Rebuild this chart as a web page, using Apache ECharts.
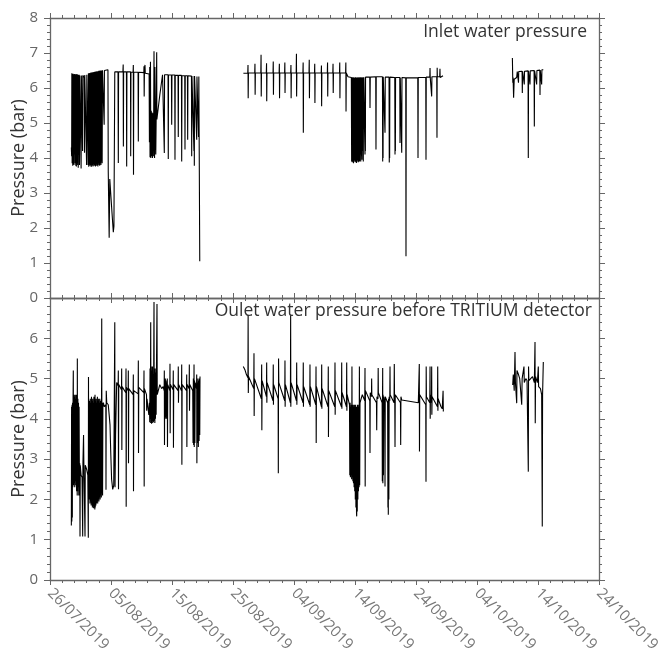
<!DOCTYPE html>
<html>
<head>
<meta charset="utf-8">
<script src="https://cdn.jsdelivr.net/npm/echarts@6/dist/echarts.min.js"></script>
<style>html,body{margin:0;padding:0;background:#fff}#c{width:660px;height:657px}</style>
</head>
<body>
<div id="c"></div>
<script>
// Day offsets since 26/07/2019, pressure in bar
const xTickDays = [0,10,20,30,40,50,60,70,80,90];
const panelTitles = ['Inlet water pressure','Oulet water pressure before TRITIUM detector'];
const yTitle = 'Pressure (bar)';

const inletSeg1 = [
[3.50,4.30],[3.55,4.05],[3.58,6.42],[3.63,3.85],[3.68,6.40],[3.73,3.78],[3.78,6.41],[3.83,3.82],[3.88,6.38],[3.93,3.80],[3.98,6.40],[4.03,4.10],[4.08,6.39],[4.13,3.85],[4.18,6.38],[4.23,3.78],[4.28,6.40],[4.33,3.76],[4.38,6.38],[4.43,3.85],[4.48,6.39],[4.53,3.80],[4.58,6.37],[4.63,3.72],[4.68,6.38],[4.73,4.10],[4.78,6.38],[4.83,3.80],[4.88,6.36],
[5.05,6.37],[5.10,3.70],[5.14,6.36],[5.30,6.37],[5.34,4.20],[5.38,6.36],[5.55,6.36],[5.60,6.30],[5.66,4.15],[5.70,6.37],[5.95,6.38],[6.00,3.80],[6.04,6.38],
[6.20,6.40],[6.25,3.80],[6.30,6.42],[6.35,3.75],[6.40,6.41],[6.45,3.82],[6.50,6.43],[6.55,3.78],[6.60,6.42],[6.65,3.80],[6.70,6.44],[6.75,3.74],[6.80,6.43],[6.85,3.78],[6.90,6.45],[6.95,3.80],[7.00,6.44],[7.05,3.76],[7.10,6.45],[7.15,3.82],[7.20,6.46],[7.25,3.78],[7.30,6.45],[7.35,3.80],[7.40,6.47],[7.45,3.76],[7.50,6.46],[7.55,3.82],[7.60,6.47],[7.65,3.78],[7.70,6.48],[7.75,3.80],[7.80,6.47],[7.85,3.76],[7.90,6.48],[7.95,3.84],[8.00,6.49],[8.05,3.80],[8.10,6.48],[8.15,3.78],[8.20,6.50],[8.25,3.85],[8.30,6.49],[8.35,3.80],[8.40,6.50],[8.45,3.90],[8.50,6.50],[8.55,3.85],[8.60,6.51],
[8.75,6.50],[8.85,6.50],[8.88,4.95],[8.92,6.50],[9.50,6.52],
[9.55,3.60],[9.70,1.72],[9.80,3.40],[10.10,2.60],[10.38,1.88],[10.48,2.05],[10.62,6.46],
[11.15,6.46],[11.20,3.86],[11.24,6.46],[11.95,6.46],[12.00,6.67],[12.03,4.33],[12.07,6.46],[12.53,6.46],[12.57,3.76],[12.61,6.46],[13.20,6.46],[13.23,4.05],[13.27,6.45],[13.62,6.45],[13.66,6.66],[13.69,3.52],[13.73,6.45],[14.44,6.45],[14.48,4.47],[14.52,6.45],[15.38,6.44],[15.41,6.62],[15.44,5.76],[15.48,6.44],[15.57,6.66],[15.62,6.42],[16.25,6.40],
[16.30,4.45],[16.35,6.60],[16.40,4.02],[16.47,6.75],[16.53,4.00],[16.60,5.35],[16.66,4.05],[16.73,5.30],[16.80,4.00],[16.87,5.28],[16.94,4.05],[17.00,5.20],[17.05,7.05],[17.08,5.20],[17.14,4.00],[17.20,6.60],[17.27,5.00],[17.34,4.10],[17.41,5.20],[17.49,7.02],[17.52,5.10],[18.00,5.80],[18.45,6.38],
[18.70,6.38],[18.74,4.14],[18.78,6.38],[19.35,6.38],[19.39,3.97],[19.43,6.37],[19.91,6.37],[19.95,4.95],[19.99,6.37],[20.45,6.37],[20.49,3.95],[20.53,6.36],[20.99,6.36],[21.03,4.60],[21.07,6.36],[21.55,6.36],[21.59,3.90],[21.63,6.35],[22.09,6.35],[22.13,4.24],[22.17,6.35],[22.53,6.35],[22.57,4.52],[22.61,6.35],[23.19,6.34],[23.23,4.05],[23.27,6.34],[23.55,6.34],[23.60,4.20],[23.63,6.34],[23.66,3.78],[23.70,6.34],[24.01,6.33],[24.05,4.52],[24.09,6.33],[24.30,6.33],[24.35,4.60],[24.40,6.33],[24.46,6.33],[24.48,3.62],[24.55,1.05]
];
const inletSeg2 = [
[31.70,6.42],[32.42,6.43],[32.46,6.66],[32.49,5.71],[32.53,6.43],[33.56,6.43],[33.60,6.69],[33.63,5.81],[33.67,6.43],[34.56,6.43],[34.60,6.95],[34.63,5.76],[34.67,6.43],[35.46,6.43],[35.50,6.71],[35.53,5.62],[35.57,6.43],[36.56,6.43],[36.60,6.76],[36.63,5.81],[36.67,6.43],[37.56,6.43],[37.60,6.69],[37.63,5.71],[37.67,6.43],[38.46,6.43],[38.50,6.73],[38.53,5.86],[38.57,6.43],[39.46,6.43],[39.50,6.66],[39.53,5.71],[39.57,6.43],[40.36,6.43],[40.40,6.98],[40.43,5.76],[40.47,6.43],[41.46,6.43],[41.50,6.73],[41.53,4.72],[41.57,6.43],[42.46,6.43],[42.50,6.81],[42.53,5.71],[42.57,6.43],[43.36,6.43],[43.40,6.69],[43.43,5.57],[43.47,6.43],[44.46,6.43],[44.50,6.64],[44.53,5.48],[44.57,6.43],[45.46,6.43],[45.50,6.73],[45.53,5.76],[45.57,6.43],[46.36,6.43],[46.40,6.69],[46.43,5.86],[46.47,6.43],[47.46,6.43],[47.50,6.73],[47.53,5.71],[47.57,6.43],[48.46,6.43],[48.50,6.73],[48.53,5.33],[48.57,6.43],[48.85,6.32],
[49.40,6.30],[49.45,3.90],[49.50,6.31],[49.55,3.88],[49.60,6.30],[49.65,3.92],[49.70,6.31],[49.75,3.85],[49.80,6.30],[49.85,3.90],[49.90,6.30],[49.95,3.95],[50.00,6.30],[50.05,3.88],[50.10,6.31],[50.15,3.92],[50.20,6.30],[50.25,3.86],[50.30,6.30],[50.35,3.90],[50.40,6.30],[50.45,3.95],[50.50,6.31],[50.55,3.88],[50.60,6.30],[50.65,3.92],[50.70,6.30],[50.75,3.90],[50.80,6.31],[50.85,4.10],[50.90,6.30],[50.95,3.90],[51.00,6.31],[51.05,4.05],[51.10,6.30],[51.15,3.95],[51.20,6.30],[51.25,4.20],[51.30,6.31],[51.36,3.90],[51.40,6.31],
[51.60,6.31],[51.64,4.10],[51.67,6.31],[51.70,4.20],[51.73,6.31],[52.42,6.31],[52.46,5.43],[52.50,6.31],[53.40,6.32],[53.44,4.24],[53.48,6.32],[54.50,6.32],[54.54,3.90],[54.57,6.32],[54.60,4.00],[54.63,6.32],[54.88,6.31],[54.92,4.72],[54.96,6.31],[55.58,6.31],[55.62,3.87],[55.65,6.31],[55.68,4.00],[55.71,6.31],[56.52,6.30],[56.56,4.10],[56.59,6.30],[56.62,4.20],[56.65,6.30],[57.34,6.30],[57.38,4.43],[57.42,6.30],[57.62,6.30],[57.66,4.15],[57.70,6.30],[58.32,6.29],[58.36,1.19],[58.40,6.29],[60.29,6.29],[60.33,4.00],[60.37,6.30],[61.60,6.30],[61.64,3.95],[61.68,6.31],[62.26,6.31],[62.30,6.57],[62.33,6.31],[62.53,6.31],[62.57,5.76],[62.61,6.32],[63.40,6.32],[63.44,4.58],[63.47,6.58],[63.50,6.32],[63.89,6.33],[63.93,6.55],[63.96,6.30],[64.43,6.35]
];
const inletSeg3 = [
[75.80,6.86],[75.87,6.15],[75.92,6.30],[76.00,5.72],[76.10,6.25],[76.30,6.20],[76.50,6.30],[76.60,6.47],[76.78,6.47],[76.80,6.15],[76.84,6.47],[77.39,6.48],[77.43,5.86],[77.47,6.48],[77.71,6.48],[77.75,6.10],[77.79,6.48],[78.37,6.49],[78.41,4.00],[78.45,6.49],[78.65,6.49],[78.69,6.10],[78.73,6.49],[79.36,6.50],[79.40,4.90],[79.44,6.50],[79.74,6.50],[79.78,6.10],[79.82,6.50],[80.29,6.51],[80.33,5.80],[80.37,6.51],[80.56,6.51],[80.60,6.10],[80.64,6.52],[80.87,6.52]
];

const outletSeg1 = [
[3.50,1.35],[3.54,4.30],[3.58,1.45],[3.62,4.35],[3.66,1.55],[3.70,4.40],[3.74,2.30],[3.78,4.50],[3.82,5.20],[3.86,2.35],[3.91,4.60],[3.96,2.40],[4.01,4.55],[4.06,2.30],[4.11,4.60],[4.16,2.45],[4.21,4.50],[4.26,2.35],[4.31,4.60],[4.36,2.20],[4.41,4.55],[4.46,2.10],[4.48,5.50],[4.52,2.20],[4.57,4.50],[4.62,2.30],[4.67,4.40],[4.72,2.10],[4.77,4.30],[4.82,2.40],[4.88,2.90],
[4.92,1.08],[4.96,2.85],[5.10,2.60],[5.25,2.55],[5.36,1.08],[5.40,2.90],[5.50,3.60],[5.55,2.90],[5.74,1.08],[5.78,2.85],[6.00,2.75],[6.20,2.60],[6.28,1.05],[6.31,5.04],[6.34,2.50],
[6.40,4.30],[6.45,2.00],[6.50,4.45],[6.55,1.90],[6.60,4.50],[6.65,1.95],[6.70,4.40],[6.75,1.85],[6.80,4.55],[6.85,1.90],[6.90,4.45],[6.95,1.80],[7.00,4.50],[7.05,1.85],[7.10,4.40],[7.15,1.78],[7.20,4.55],[7.25,1.80],[7.30,4.50],[7.35,1.75],[7.38,4.60],[7.42,1.80],[7.47,4.45],[7.52,1.85],[7.57,4.50],[7.62,1.90],[7.67,4.40],[7.72,1.95],[7.77,4.55],[7.82,1.90],[7.87,4.45],[7.92,2.00],[7.97,4.50],[8.02,1.95],[8.07,4.40],[8.12,2.05],[8.17,4.50],[8.22,2.00],[8.27,4.45],[8.32,2.10],[8.37,4.40],[8.42,2.05],[8.48,6.49],[8.52,2.15],[8.57,4.40],[8.62,2.10],[8.67,4.35],
[8.75,4.40],[8.90,4.30],[9.15,4.35],[9.18,2.24],[9.22,4.70],[9.30,4.40],[9.55,4.35],[9.70,4.10],[9.84,3.85],[9.95,3.20],[10.10,2.50],[10.28,2.25],[10.45,2.35],[10.62,6.40],[10.66,2.30],[10.75,3.60],[10.93,4.90],
[11.17,4.82],[11.20,5.20],[11.23,2.25],[11.27,4.85],[11.72,4.72],[11.75,5.25],[11.78,3.23],[11.82,4.80],[12.43,4.65],[12.46,5.25],[12.49,1.82],[12.53,4.78],[12.81,4.70],[12.84,5.20],[12.87,2.90],[12.91,4.75],[13.63,4.60],[13.66,5.10],[13.69,2.20],[13.73,4.70],[14.45,4.62],[14.48,5.45],[14.51,3.15],[14.55,4.78],[15.38,4.65],[15.41,5.20],[15.44,2.32],[15.48,4.75],[15.82,4.60],[15.85,4.20],[15.90,4.50],[16.20,4.10],[16.30,4.40],
[16.35,3.92],[16.40,5.25],[16.45,3.90],[16.51,6.40],[16.55,4.00],[16.60,5.30],[16.65,3.88],[16.70,5.20],[16.75,3.95],[16.80,5.30],[16.85,3.90],[16.90,5.10],[16.95,3.92],[17.00,5.30],[17.05,6.90],[17.09,3.95],[17.14,5.20],[17.19,3.90],[17.24,5.25],[17.29,4.00],[17.34,5.15],[17.40,4.10],[17.45,5.20],[17.54,6.85],[17.58,4.60],[18.00,4.85],[18.30,4.75],[18.55,4.80],
[18.71,4.70],[18.74,5.20],[18.77,3.35],[18.81,4.95],[18.86,4.00],[18.91,5.00],[18.96,4.05],[19.01,4.95],[19.06,4.00],[19.11,4.90],[19.20,4.75],[19.23,5.00],[19.26,3.30],[19.30,4.85],[19.64,4.70],[19.67,5.37],[19.70,3.64],[19.74,4.85],[20.18,4.72],[20.21,5.20],[20.24,3.28],[20.28,4.85],[21.00,4.70],[21.03,5.30],[21.06,4.40],[21.10,4.85],[21.56,4.70],[21.59,5.35],[21.62,2.86],[21.66,4.85],[22.38,4.70],[22.41,5.10],[22.44,3.30],[22.48,4.85],[22.81,4.75],[22.84,5.35],[22.87,4.20],[22.91,4.85],[23.40,4.70],[23.45,3.40],[23.50,5.00],[23.55,3.35],[23.61,5.35],[23.65,3.30],[23.70,4.95],[23.75,3.40],[23.80,4.90],[24.02,4.75],[24.05,5.10],[24.08,2.90],[24.12,4.90],[24.20,3.40],[24.26,5.00],[24.32,3.30],[24.38,4.95],[24.44,3.45],[24.50,5.00],[24.55,3.60],[24.59,5.05]
];
const outletSeg2 = [
[31.69,5.30],[31.95,5.22],[32.20,5.10],[32.45,5.02],[32.48,6.57],[32.51,4.64],[32.55,5.05],
[33.40,4.75],[33.44,5.63],[33.47,4.07],[33.51,5.00],
[34.65,4.50],[34.70,5.35],[34.73,3.72],[34.77,4.95],
[35.48,4.55],[35.52,5.40],[35.55,4.40],[35.59,4.90],
[36.56,4.45],[36.60,5.35],[36.63,4.35],[36.67,4.85],
[37.40,4.50],[37.43,2.65],[37.47,5.50],[37.51,4.90],
[38.48,4.45],[38.52,5.45],[38.55,4.30],[38.59,4.85],
[39.41,4.40],[39.45,6.57],[39.48,4.30],[39.52,4.90],
[40.40,4.45],[40.44,5.40],[40.47,4.35],[40.51,4.85],
[41.48,4.40],[41.52,5.40],[41.55,4.30],[41.59,4.80],
[42.58,4.35],[42.62,5.35],[42.65,4.30],[42.69,4.80],
[43.57,4.35],[43.61,5.30],[43.64,3.40],[43.68,4.80],
[44.50,4.30],[44.54,5.35],[44.57,4.25],[44.61,4.75],
[45.58,4.30],[45.62,5.30],[45.65,3.55],[45.69,4.70],
[46.68,4.30],[46.72,5.40],[46.75,4.10],[46.79,4.70],
[47.78,4.30],[47.82,5.40],[47.85,4.25],[47.89,4.65],
[48.60,4.30],[48.64,5.40],[48.67,4.20],[48.71,4.60],
[49.10,4.35],[49.15,2.60],[49.20,4.40],[49.25,2.55],[49.30,4.30],[49.35,2.60],[49.40,4.35],[49.45,2.50],[49.50,5.30],[49.55,2.55],[49.60,4.30],[49.65,2.45],[49.70,4.35],[49.75,2.40],[49.80,4.30],[49.85,2.30],[49.90,4.35],[49.95,2.20],[50.00,4.30],[50.05,2.00],[50.10,4.35],[50.15,1.80],[50.20,4.30],[50.25,1.65],[50.28,1.58],[50.32,4.30],[50.37,1.70],[50.42,4.35],[50.47,2.00],[50.52,4.30],[50.57,2.20],[50.62,4.35],[50.67,2.30],[50.72,5.30],[50.77,2.35],[50.82,4.40],
[51.20,4.60],[51.60,4.45],[51.64,5.26],[51.67,2.32],[51.71,4.70],[52.42,4.45],[52.46,3.15],[52.50,4.65],[52.70,4.55],[52.73,5.00],[52.76,4.60],[53.52,4.40],[53.56,3.72],[53.60,4.55],[53.77,4.50],[53.80,5.26],[53.83,4.65],[54.45,4.40],[54.48,2.45],[54.51,4.50],[54.54,5.26],[54.57,2.40],[54.61,4.60],[54.66,2.60],[54.71,4.55],[54.88,4.40],[54.92,2.32],[54.96,4.55],[55.35,4.40],[55.40,1.80],[55.43,4.45],[55.46,1.62],[55.50,4.50],[55.55,2.00],[55.60,4.55],[55.70,4.45],[55.74,5.30],[55.77,4.60],[56.40,4.40],[56.44,5.36],[56.48,4.55],[56.52,4.40],[56.56,3.30],[56.60,4.60],[57.45,4.40],[57.49,3.35],[57.53,4.55],[57.66,4.47],[60.38,4.40],
[60.50,4.40],[60.54,5.36],[60.57,3.19],[60.61,4.60],[61.60,4.35],[61.64,2.44],[61.67,5.30],[61.71,4.55],[62.26,4.40],[62.30,5.30],[62.33,4.00],[62.37,4.60],[62.53,4.40],[62.57,5.30],[62.60,4.10],[62.64,4.55],[63.52,4.30],[63.56,5.30],[63.59,4.20],[63.63,4.50],[64.10,4.30],[64.30,4.25],[64.44,4.70],[64.48,4.18]
];
const outletSeg3 = [
[75.85,4.84],[75.95,5.10],[76.10,4.70],[76.23,5.66],[76.30,4.90],[76.51,4.39],[76.55,5.20],[76.80,5.10],[77.00,5.00],[77.33,4.35],[77.40,5.00],[77.70,5.30],[77.75,4.90],[78.00,5.00],[78.20,4.95],[78.41,2.69],[78.45,5.30],[78.50,4.95],[78.80,5.00],[79.10,5.05],[79.40,4.90],[79.51,5.91],[79.55,3.89],[79.60,5.05],[79.90,4.90],[80.05,5.30],[80.10,4.80],[80.40,4.75],[80.60,4.60],[80.70,1.33],[80.75,4.60],[80.87,5.41]
];

function joinSegs(segs) {
  const out = [];
  segs.forEach((s, i) => {
    if (i > 0) out.push([s[0][0] - 1, '-']);
    s.forEach(p => out.push(p));
  });
  return out;
}

const FONT = '"Open Sans", "Noto Sans", sans-serif';
const AX = '#666';
const BASE = Date.UTC(2019, 6, 26);
function fmtDay(d) {
  const t = new Date(BASE + Math.round(d) * 86400000);
  const p = n => (n < 10 ? '0' : '') + n;
  return p(t.getUTCDate()) + '/' + p(t.getUTCMonth() + 1) + '/' + t.getUTCFullYear();
}

function xAx(gi, pos, showLabel) {
  return {
    type: 'value', gridIndex: gi, position: pos,
    min: xTickDays[0], max: xTickDays[xTickDays.length - 1], interval: 10,
    axisLine: { show: true, onZero: false, lineStyle: { color: AX, width: 1.3 } },
    axisTick: { show: true, inside: false, length: 5, lineStyle: { color: AX } },
    minorTick: { show: true, splitNumber: 5, length: 3, lineStyle: { color: AX } },
    splitLine: { show: false },
    axisLabel: { show: showLabel, rotate: -45, margin: 11, color: '#777', fontSize: 15, fontFamily: FONT, formatter: fmtDay }
  };
}
function yAx(gi, pos, max, showLabel, showMax) {
  return {
    type: 'value', gridIndex: gi, position: pos, min: 0, max: max, interval: 1,
    name: showLabel ? yTitle : '', nameLocation: 'middle', nameGap: 22, nameRotate: 90,
    nameMoveOverlap: false,
    nameTextStyle: { color: '#333', fontSize: 18, fontFamily: FONT },
    axisLine: { show: true, onZero: false, lineStyle: { color: AX, width: 1.3 } },
    axisTick: { show: true, inside: false, length: 6, lineStyle: { color: AX } },
    minorTick: { show: true, splitNumber: 5, length: 3, lineStyle: { color: AX } },
    splitLine: { show: false },
    axisLabel: { show: showLabel, showMaxLabel: showMax, margin: 12, color: '#666', fontSize: 15, fontFamily: FONT }
  };
}

const chart = echarts.init(document.getElementById('c'), null, { renderer: 'canvas' });
chart.setOption({
  animation: false,
  backgroundColor: '#fff',
  title: [
    { text: panelTitles[0], right: 73, top: 23, padding: 0, textStyle: { color: '#333', fontSize: 17.5, fontWeight: 'normal', fontFamily: FONT } },
    { text: panelTitles[1], right: 68, top: 302, padding: 0, textStyle: { color: '#333', fontSize: 17.5, fontWeight: 'normal', fontFamily: FONT } }
  ],
  grid: [
    { left: 50, top: 18, width: 549, height: 280, containLabel: false, outerBoundsMode: 'none' },
    { left: 50, top: 298, width: 549, height: 282, containLabel: false, outerBoundsMode: 'none' }
  ],
  xAxis: [xAx(0, 'bottom', false), xAx(0, 'top', false), xAx(1, 'bottom', true), xAx(1, 'top', false)],
  yAxis: [yAx(0, 'left', 8, true, true), yAx(0, 'right', 8, false, true), yAx(1, 'left', 7, true, false), yAx(1, 'right', 7, false, false)],
  series: [
    { type: 'line', xAxisIndex: 0, yAxisIndex: 0, data: joinSegs([inletSeg1, inletSeg2, inletSeg3]), showSymbol: false, symbol: 'none', connectNulls: false, lineStyle: { color: '#000', width: 1.1 } },
    { type: 'line', xAxisIndex: 2, yAxisIndex: 2, data: joinSegs([outletSeg1, outletSeg2, outletSeg3]), showSymbol: false, symbol: 'none', connectNulls: false, lineStyle: { color: '#000', width: 1.1 } }
  ]
});
</script>
</body>
</html>
